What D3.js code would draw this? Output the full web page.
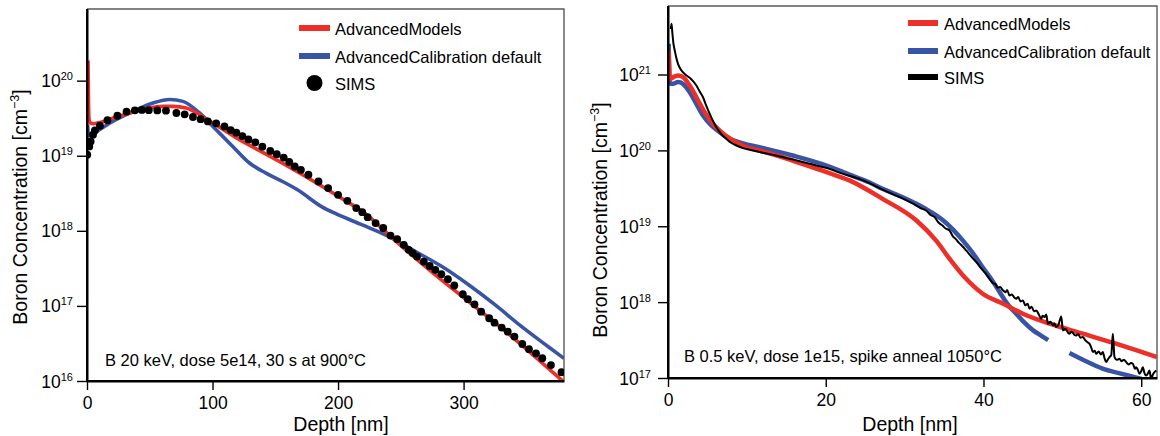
<!DOCTYPE html>
<html>
<head>
<meta charset="utf-8">
<script src="https://cdn.jsdelivr.net/npm/d3@7"></script>
<style>
  html, body { margin: 0; padding: 0; background: #fff; }
  svg { display: block; font-family: "Liberation Sans", Arial, Helvetica, sans-serif; }
</style>
</head>
<body>
<svg id="chart" width="1160" height="436"></svg>
<script>
// ---------- Panel A: B 20 keV, dose 5e14, 30 s at 900°C ----------
const simsA_depth = [0.2, 1.8, 2.9, 4.8, 6.3, 10.3, 16.3, 24.2, 31.5, 38.1, 43.7, 49.2, 56.0, 62.9, 71.2, 77.8,
  84.4, 90.5, 96.3, 102.9, 109.5, 114.5, 119.0, 123.8, 128.6, 134.1, 139.7, 146.0, 151.2, 156.7, 161.1,
  165.5, 170.4, 176.4, 184.4, 192.1, 200.0, 207.4, 214.5, 219.3, 223.6, 229.9, 236.0, 241.8, 247.1,
  252.4, 256.3, 259.5, 262.9, 268.3, 273.0, 277.5, 282.3, 287.5, 292.6, 299.4, 303.4, 308.7, 314.0,
  320.4, 324.6, 330.4, 335.2, 340.5, 346.8, 352.1, 357.7, 362.7, 369.6, 378.0];
const simsA_conc = [1.03e19, 1.33e19, 1.55e19, 1.91e19, 2.17e19, 2.51e19, 2.97e19, 3.41e19, 3.86e19, 4.02e19,
  4.08e19, 4.05e19, 4.01e19, 3.98e19, 3.71e19, 3.56e19, 3.28e19, 3.07e19, 2.86e19, 2.70e19, 2.46e19,
  2.20e19, 2.03e19, 1.83e19, 1.65e19, 1.51e19, 1.32e19, 1.16e19, 1.05e19, 9.46e18, 8.26e18, 7.19e18,
  6.50e18, 5.58e18, 4.54e18, 3.71e18, 3.02e18, 2.51e18, 2.01e18, 1.77e18, 1.52e18, 1.27e18, 1.09e18,
  8.65e17, 7.74e17, 6.50e17, 5.58e17, 5.05e17, 4.54e17, 3.90e17, 3.41e17, 3.02e17, 2.65e17, 2.27e17,
  1.87e17, 1.43e17, 1.23e17, 1.05e17, 8.39e16, 6.85e16, 5.98e16, 5.14e16, 4.54e16, 3.90e16, 3.11e16,
  2.65e16, 2.34e16, 2.01e16, 1.63e16, 1.31e16];

const modelsA_depth = [0.8, 1.2, 1.7, 2.8, 5.0, 10.3, 20.9, 34.1, 47.4, 60.6, 68.5, 79.1, 89.7, 100.2, 110.9,
  121.4, 132.0, 142.6, 153.2, 171.7, 198.2, 224.6, 240.5, 251.0, 277.5, 304.0, 330.4, 356.9, 380.0];
const modelsA_conc = [1.86e20, 5.0e19, 3.0e19, 2.72e19, 2.67e19, 2.78e19, 3.18e19, 3.71e19, 4.24e19, 4.54e19,
  4.54e19, 4.33e19, 3.52e19, 2.73e19, 2.11e19, 1.63e19, 1.31e19, 1.05e19, 8.40e18, 5.58e18, 3.02e18,
  1.55e18, 8.85e17, 6.17e17, 2.59e17, 1.14e17, 5.05e16, 2.11e16, 9.66e15];

const calibA_depth = [0.5, 1.2, 3.0, 7.7, 18.3, 36.7, 52.6, 66.0, 76.4, 89.7, 102.9, 116.1, 129.4, 142.6,
  155.8, 167.7, 187.5, 198.2, 219.3, 240.5, 261.7, 282.8, 304.0, 325.2, 346.3, 367.5, 380.0];
const calibA_conc = [2.6e19, 1.85e19, 1.95e19, 2.11e19, 2.73e19, 3.90e19, 5.05e19, 5.62e19, 5.30e19, 3.71e19,
  2.22e19, 1.33e19, 8.0e18, 5.87e18, 4.54e18, 3.52e18, 2.07e18, 1.69e18, 1.20e18, 8.4e17, 5.3e17,
  3.34e17, 1.91e17, 1.03e17, 5.3e16, 2.86e16, 2.0e16];

// ---------- Panel B: B 0.5 keV, dose 1e15, spike anneal 1050°C ----------
const modelsB_depth = [0.08, 0.25, 0.85, 1.27, 1.9, 2.75, 3.6, 4.65, 5.7, 6.77, 8.24, 9.94, 11.6, 15.8, 20.1,
  23.0, 27.2, 31.5, 34.0, 35.7, 37.8, 39.9, 42.5, 45.0, 48.4, 52.6, 56.8, 62.0];
const modelsB_conc = [2.07e21, 8.8e20, 9.42e20, 9.7e20, 9.23e20, 7.16e20, 5.01e20, 3.18e20, 2.24e20, 1.74e20,
  1.35e20, 1.10e20, 9.98e19, 7.36e19, 5.16e19, 4.02e19, 2.30e19, 1.19e19, 6.46e18, 3.73e18, 2.03e18,
  1.29e18, 9.53e17, 7.03e17, 5.19e17, 3.84e17, 2.83e17, 1.88e17];

// null marks the break in the calibration profile
const calibB_depth = [0.08, 0.22, 0.6, 1.27, 1.9, 2.75, 3.6, 4.44, 5.5, 6.55, 7.4, 9.5, 11.6, 15.8, 20.1, 23.0,
  25.5, 27.2, 29.4, 31.5, 33.3, 34.9, 36.2, 37.4, 38.7, 39.9, 41.0, 42.0, 43.0, 44.2, 45.2, 46.3, 47.3,
  48.2, 49.5, 50.9, 53.0, 55.1, 57.3, 59.4, 62.0];
const calibB_conc = [2.54e21, 7.6e20, 7.53e20, 7.94e20, 7.53e20, 5.85e20, 4.11e20, 2.88e20, 2.13e20, 1.74e20,
  1.49e20, 1.24e20, 1.10e20, 8.57e19, 6.31e19, 4.79e19, 3.80e19, 3.12e19, 2.51e19, 1.98e19, 1.55e19,
  1.19e19, 8.91e18, 6.46e18, 4.37e18, 2.88e18, 2.00e18, 1.38e18, 9.55e17, 6.92e17, 5.37e17, 4.24e17,
  3.63e17, 3.16e17, null, 2.13e17, 1.66e17, 1.33e17, 1.15e17, 1.01e17, 8.5e16];

const simsB_depth = [0.35, 0.45, 0.55, 0.7, 0.85, 1.05, 1.27, 1.6, 1.9, 2.3, 2.75, 3.2, 3.6, 4.0, 4.44, 4.85,
  5.29, 5.7, 6.13, 6.8, 7.4, 8.0, 8.67, 9.5, 10.35, 12.0, 13.7, 16.0, 17.96, 20.0, 22.2, 24.5, 26.0,
  27.5, 29.0, 30.0, 31.0, 32.0, 32.75, 33.3, 33.8, 34.3, 34.8, 35.2, 35.7, 36.1, 36.5, 36.9, 37.3, 37.8,
  38.3, 38.8, 39.3, 39.6, 40.0, 40.4, 40.8, 41.2, 41.5, 41.8, 42.1, 42.46, 42.8, 43.0, 43.3, 43.6, 43.9,
  44.15, 44.4, 44.7, 45.0, 45.3, 45.6, 45.84, 46.1, 46.4, 46.69, 47.0, 47.32, 47.5, 47.74, 47.96, 48.17,
  48.5, 48.8, 49.0, 49.22, 49.5, 49.86, 50.07, 50.4, 50.7, 50.91, 51.2, 51.5, 51.76, 52.0, 52.3, 52.6,
  52.9, 53.2, 53.45, 53.7, 53.87, 54.1, 54.29, 54.6, 54.9, 55.13, 55.35, 55.56, 55.8, 55.98, 56.2, 56.4,
  56.61, 56.9, 57.25, 57.5, 57.8, 58.1, 58.4, 58.7, 58.94, 59.2, 59.36, 59.6, 59.79, 60.0, 60.21, 60.4,
  60.63, 60.85, 61.05, 61.25, 61.48, 61.7, 61.9];
const simsB_conc = [3.98e21, 4.68e21, 3.55e21, 2.51e21, 2.09e21, 1.66e21, 1.38e21, 1.17e21, 1.07e21, 9.77e20,
  9.06e20, 8.13e20, 7.16e20, 6.03e20, 5.01e20, 3.89e20, 3.02e20, 2.45e20, 2.02e20, 1.62e20, 1.42e20,
  1.26e20, 1.16e20, 1.07e20, 1.02e20, 9.33e19, 8.57e19, 7.50e19, 6.65e19, 5.89e19, 4.90e19, 4.12e19,
  3.51e19, 2.95e19, 2.51e19, 2.26e19, 2.00e19, 1.74e19, 1.61e19, 1.41e19, 1.32e19, 1.12e19, 1.02e19,
  9.33e18, 8.81e18, 7.41e18, 6.76e18, 6.03e18, 5.50e18, 4.80e18, 4.17e18, 3.63e18, 3.16e18, 2.88e18,
  2.57e18, 2.29e18, 2.00e18, 1.78e18, 1.74e18, 1.55e18, 1.58e18, 1.43e18, 1.35e18, 1.45e18, 1.22e18,
  1.26e18, 1.15e18, 1.11e18, 1.17e18, 1.02e18, 1.05e18, 9.12e17, 9.55e17, 8.18e17, 8.71e17, 7.59e17,
  7.78e17, 6.92e17, 6.04e17, 6.61e17, 6.35e17, 6.89e17, 5.19e17, 5.50e17, 4.93e17, 5.25e17, 4.69e17,
  5.01e17, 6.49e17, 4.24e17, 4.47e17, 3.98e17, 3.84e17, 4.07e17, 3.72e17, 3.64e17, 3.80e17, 3.39e17,
  3.46e17, 3.16e17, 2.95e17, 2.82e17, 2.45e17, 2.20e17, 2.29e17, 2.09e17, 2.24e17, 2.04e17, 2.20e17,
  1.82e17, 1.62e17, 1.78e17, 1.89e17, 2.00e17, 3.84e17, 1.89e17, 1.74e17, 1.79e17, 1.66e17, 1.74e17,
  1.62e17, 1.51e17, 1.58e17, 1.54e17, 1.32e17, 1.39e17, 1.26e17, 1.14e17, 1.23e17, 1.39e17, 1.17e17,
  1.08e17, 1.15e17, 1.26e17, 9.77e16, 1.11e17, 1.20e17, 1.26e17];

// ---------- labels and ticks ----------
const seriesNames = ["AdvancedModels", "AdvancedCalibration default", "SIMS"];
const xTitle = "Depth [nm]";
const yTitle = "Boron Concentration [cm";
const noteA = "B 20 keV, dose 5e14, 30 s at 900°C";
const noteB = "B 0.5 keV, dose 1e15, spike anneal 1050°C";
const xMajorA = [0, 100, 200, 300];
const xMinorA = [20, 40, 60, 80, 120, 140, 160, 180, 220, 240, 260, 280, 320, 340, 360, 380];
const xMajorB = [0, 20, 40, 60];
const xMinorB = [4, 8, 12, 16, 24, 28, 32, 36, 44, 48, 52, 56];
const decadesA = [1e16, 1e17, 1e18, 1e19, 1e20];
const decadesB = [1e17, 1e18, 1e19, 1e20, 1e21];

const RED = "#ec2f28";
const BLUE = "#3a54a5";
const svg = d3.select("#chart");

function zipData(xs, ys) { return xs.map((v, i) => [v, ys[i]]); }

function minorLogTicks(domain) {
  const out = [];
  const lo = Math.floor(Math.log10(domain[0])), hi = Math.ceil(Math.log10(domain[1]));
  for (let e = lo; e <= hi; e++) {
    for (let m = 2; m <= 9; m++) {
      const v = m * Math.pow(10, e);
      if (v >= domain[0] && v <= domain[1]) out.push(v);
    }
  }
  return out;
}

function drawPanel(p) {
  const x = d3.scaleLinear().domain(p.xDomain).range([p.left, p.right]);
  const y = d3.scaleLog().domain(p.yDomain).range([p.bottom, p.top]);
  const g = svg.append("g");

  svg.append("clipPath").attr("id", "clip-" + p.id)
    .append("rect").attr("x", p.left).attr("y", p.top)
    .attr("width", p.right - p.left).attr("height", p.bottom - p.top);

  // top and right frame
  g.append("path")
    .attr("d", `M${p.left},${p.top}H${p.right}V${p.bottom}`)
    .attr("fill", "none").attr("stroke", "#5a5a5a").attr("stroke-width", 1.4);

  const plot = g.append("g").attr("clip-path", `url(#clip-${p.id})`);
  const line = d3.line()
    .defined(d => d[1] != null)
    .x(d => x(d[0])).y(d => y(d[1]))
    .curve(d3.curveMonotoneX);

  p.lines.forEach(s => {
    plot.append("path").datum(zipData(s.depth, s.conc))
      .attr("d", line).attr("fill", "none")
      .attr("stroke", s.color).attr("stroke-width", s.width)
      .attr("stroke-linejoin", "round").attr("stroke-linecap", "butt");
  });
  if (p.dots) {
    plot.selectAll("circle.sims").data(zipData(p.dots.depth, p.dots.conc)).join("circle")
      .attr("class", "sims")
      .attr("cx", d => x(d[0])).attr("cy", d => y(d[1])).attr("r", 3.9).attr("fill", "#000");
  }

  // x axis
  const xg = g.append("g").attr("transform", `translate(0,${p.bottom})`);
  xg.call(d3.axisBottom(x).tickValues(p.xMinor).tickSize(6).tickSizeOuter(0).tickFormat(""));
  xg.call(d3.axisBottom(x).tickValues(p.xMajor).tickSize(9).tickSizeOuter(0).tickPadding(7).tickFormat(d3.format("d")));
  xg.selectAll("text").attr("font-size", 17.5).attr("fill", "#000");

  // y axis
  const yg = g.append("g").attr("transform", `translate(${p.left},0)`);
  yg.call(d3.axisLeft(y).tickValues(minorLogTicks(p.yDomain)).tickSize(5).tickSizeOuter(0).tickFormat(""));
  yg.call(d3.axisLeft(y).tickValues(p.decades).tickSize(10).tickSizeOuter(0).tickPadding(p.labelGap).tickFormat(""));
  yg.selectAll(".tick text").each(function (d) {
    const t = d3.select(this).attr("dy", null).attr("y", 6).attr("font-size", 17.5).attr("fill", "#000");
    t.text(null);
    t.append("tspan").text("10");
    t.append("tspan").attr("font-size", 11).attr("dy", -7).text(Math.round(Math.log10(d)));
  });

  [xg, yg].forEach(a => {
    a.selectAll(".domain").attr("stroke", "#000").attr("stroke-width", 2);
    a.selectAll(".tick line").attr("stroke", "#000").attr("stroke-width", 1.4);
  });
  // re-draw spines on top so the corner is closed
  g.append("path").attr("d", `M${p.left},${p.top}V${p.bottom}H${p.right}`)
    .attr("fill", "none").attr("stroke", "#000").attr("stroke-width", 2);

  // axis titles
  g.append("text").attr("x", p.xTitleX).attr("y", 431).attr("text-anchor", "middle")
    .attr("font-size", 19.5).attr("fill", "#000").text(xTitle);
  const yt = g.append("text")
    .attr("transform", `translate(${p.yTitleX},${p.yTitleY}) rotate(-90)`)
    .attr("text-anchor", "middle").attr("font-size", 19.5).attr("fill", "#000");
  yt.append("tspan").text(yTitle);
  yt.append("tspan").attr("font-size", 12.5).attr("dy", -8).text("\u22123");
  yt.append("tspan").attr("dy", 8).text("]");

  // condition note
  g.append("text").attr("x", p.noteX).attr("y", p.noteY)
    .attr("font-size", 16.5).attr("fill", "#000").text(p.note);

  // legend
  const lg = g.append("g");
  p.legend.forEach((item, i) => {
    const cy = p.legendY[i];
    if (item.kind === "dot") {
      lg.append("circle").attr("cx", (p.legendX0 + p.legendX1) / 2).attr("cy", cy).attr("r", 8).attr("fill", "#000");
    } else {
      lg.append("line").attr("x1", p.legendX0).attr("x2", p.legendX1).attr("y1", cy).attr("y2", cy)
        .attr("stroke", item.color).attr("stroke-width", 6);
    }
    lg.append("text").attr("x", p.legendTextX).attr("y", cy + 7)
      .attr("font-size", 16.5).attr("fill", "#000").text(item.name);
  });
}

drawPanel({
  id: "a", left: 87, right: 564, top: 9, bottom: 381,
  xDomain: [0, 380], yDomain: [1e16, 9e20],
  xMajor: xMajorA, xMinor: xMinorA, decades: decadesA, labelGap: 4,
  lines: [
    { depth: calibA_depth, conc: calibA_conc, color: BLUE, width: 3.6 },
    { depth: modelsA_depth, conc: modelsA_conc, color: RED, width: 3.6 }
  ],
  dots: { depth: simsA_depth, conc: simsA_conc },
  xTitleX: 341, yTitleX: 27, yTitleY: 207,
  note: noteA, noteX: 105, noteY: 366,
  legend: [
    { name: seriesNames[0], color: RED, kind: "line" },
    { name: seriesNames[1], color: BLUE, kind: "line" },
    { name: seriesNames[2], color: "#000", kind: "dot" }
  ],
  legendX0: 299, legendX1: 330, legendTextX: 335, legendY: [28, 56, 83]
});

drawPanel({
  id: "b", left: 668, right: 1157, top: 6, bottom: 378,
  xDomain: [0, 62], yDomain: [1e17, 8e21],
  xMajor: xMajorB, xMinor: xMinorB, decades: decadesB, labelGap: 7,
  lines: [
    { depth: calibB_depth, conc: calibB_conc, color: BLUE, width: 4.5 },
    { depth: modelsB_depth, conc: modelsB_conc, color: RED, width: 4.5 },
    { depth: simsB_depth, conc: simsB_conc, color: "#000", width: 2 }
  ],
  dots: null,
  xTitleX: 910, yTitleX: 607, yTitleY: 220,
  note: noteB, noteX: 684, noteY: 362,
  legend: [
    { name: seriesNames[0], color: RED, kind: "line" },
    { name: seriesNames[1], color: BLUE, kind: "line" },
    { name: seriesNames[2], color: "#000", kind: "line" }
  ],
  legendX0: 908, legendX1: 938, legendTextX: 944, legendY: [23, 51, 77]
});
</script>
</body>
</html>
